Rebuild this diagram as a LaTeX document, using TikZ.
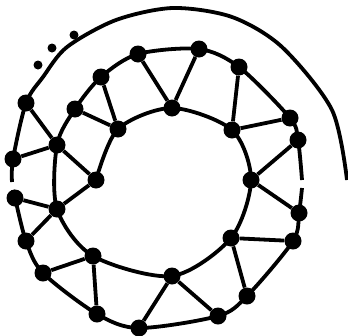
\documentclass[tikz,border=0pt]{standalone}
\usepackage{tikz}

\begin{document}
\begin{tikzpicture}[x=1pt, y=-1pt,
  knot/.style={circle, fill=black, minimum size=17pt, inner sep=0pt},
  ellip/.style={circle, fill=black, minimum size=9pt, inner sep=0pt},
  spoke/.style={line width=3.8pt},
  spiral/.style={line width=3.8pt}
]
\useasboundingbox (0,0) rectangle (348,335);

% free end of the spiral and the two breaks in it
\coordinate (T0) at (347,180);
\coordinate (GL1) at (12,182);
\coordinate (GL2) at (13,190);
\coordinate (GR1) at (302,188);
\coordinate (GR2) at (302,180);

% first turn
\node[knot] (P1) at (26,103) {};
\node[knot] (P2) at (13,159) {};
\node[knot] (P3) at (15,198) {};
\node[knot] (P4) at (26,241) {};
\node[knot] (P5) at (43,273) {};
\node[knot] (P6) at (97,314) {};
\node[knot] (P7) at (139,328) {};
\node[knot] (P8) at (218,316) {};
\node[knot] (P9) at (247,296) {};
\node[knot] (P10) at (293,241) {};
\node[knot] (P11) at (299,213) {};
\node[knot] (P12) at (298,140) {};
\node[knot] (P13) at (290,118) {};
\node[knot] (P14) at (239,67) {};
\node[knot] (P15) at (199,49) {};
\node[knot] (P16) at (138,54) {};
\node[knot] (P17) at (101,77) {};
\node[knot] (P18) at (75,109) {};

% second turn
\node[knot] (P19) at (57,145) {};
\node[knot] (P20) at (57,209) {};
\node[knot] (P21) at (93,256) {};
\node[knot] (P22) at (172,276) {};
\node[knot] (P23) at (231,238) {};
\node[knot] (P24) at (251,180) {};
\node[knot] (P25) at (232,130) {};
\node[knot] (P26) at (172,108) {};
\node[knot] (P27) at (118,129) {};
\node[knot] (P28) at (96,180) {};

% the dots
\node[ellip] (D1) at (38,65) {};
\node[ellip] (D2) at (52,48) {};
\node[ellip] (D3) at (74,35) {};

% spiral, in three pieces
\draw[spiral] plot[smooth] coordinates {(T0) (332,110) (282,47) (232,17) (173,8)
  (116,20) (67,47) (43,77) (P1) (P2) (GL1)};
\draw[spiral] plot[smooth] coordinates {(GL2) (P3) (P4) (P5) (P6) (P7) (P8)
  (P9) (P10) (P11) (GR1)};
\draw[spiral] plot[smooth] coordinates {(GR2) (P12) (P13) (P14) (P15) (P16)
  (P17) (P18) (P19) (P20) (P21) (P22) (P23) (P24) (P25) (P26) (P27) (P28)};

% each knot of a turn joins two of the turn outside it
\draw[spoke] (P19) -- (P1);  \draw[spoke] (P19) -- (P2);
\draw[spoke] (P20) -- (P3);  \draw[spoke] (P20) -- (P4);
\draw[spoke] (P21) -- (P5);  \draw[spoke] (P21) -- (P6);
\draw[spoke] (P22) -- (P7);  \draw[spoke] (P22) -- (P8);
\draw[spoke] (P23) -- (P9);  \draw[spoke] (P23) -- (P10);
\draw[spoke] (P24) -- (P11); \draw[spoke] (P24) -- (P12);
\draw[spoke] (P25) -- (P13); \draw[spoke] (P25) -- (P14);
\draw[spoke] (P26) -- (P15); \draw[spoke] (P26) -- (P16);
\draw[spoke] (P27) -- (P17); \draw[spoke] (P27) -- (P18);
\draw[spoke] (P28) -- (P19); \draw[spoke] (P28) -- (P20);

\end{tikzpicture}
\end{document}
